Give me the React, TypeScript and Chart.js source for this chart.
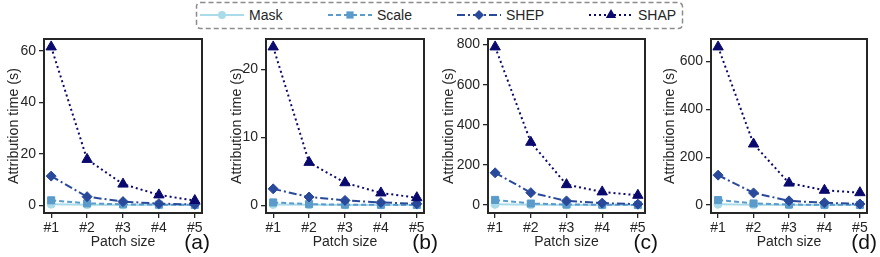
import React, { useEffect, useRef } from 'react';
import { Chart, registerables } from 'chart.js';

Chart.register(...registerables);

const FONT = '"Liberation Sans", Arial, Helvetica, sans-serif';
const INK = '#262626';

// ---- data ----
const PATCH_X = [1, 2, 3, 4, 5];
const PATCH_LABELS = ['#1', '#2', '#3', '#4', '#5'];
const SERIES_NAMES = ['Mask', 'Scale', 'SHEP', 'SHAP'];

// panel (a)
const A_MASK = [0.4, 0.2, 0.1, 0.06, 0.04];
const A_SCALE = [1.9, 0.7, 0.35, 0.2, 0.12];
const A_SHEP = [11.3, 3.3, 1.4, 0.6, 0.3];
const A_SHAP = [61.5, 17.8, 8.2, 4.0, 1.8];
const A_Y_TICKS = [0, 20, 40, 60];

// panel (b)
const B_MASK = [0.1, 0.05, 0.03, 0.02, 0.01];
const B_SCALE = [0.4, 0.15, 0.07, 0.05, 0.03];
const B_SHEP = [2.4, 1.2, 0.7, 0.4, 0.2];
const B_SHAP = [23.3, 6.3, 3.3, 1.8, 1.1];
const B_Y_TICKS = [0, 10, 20];

// panel (c)
const C_MASK = [4, 1.5, 0.7, 0.4, 0.2];
const C_SCALE = [26, 8, 3, 2, 1];
const C_SHEP = [161, 62, 21, 10, 5];
const C_SHAP = [788, 313, 102, 66, 49];
const C_Y_TICKS = [0, 200, 400, 600, 800];

// panel (d)
const D_MASK = [4, 1.5, 0.7, 0.4, 0.2];
const D_SCALE = [21, 7, 2.5, 1.5, 1];
const D_SHEP = [125, 51, 18, 10, 5];
const D_SHAP = [660, 255, 92, 62, 52];
const D_Y_TICKS = [0, 200, 400, 600];

const PANEL_LETTERS = ['(a)', '(b)', '(c)', '(d)'];
const X_TITLE = 'Patch size';
const Y_TITLE = 'Attribution time (s)';

// ---- styles / layout ----
const SERIES_STYLE = [
  { color: '#a9dbe9', dash: [] as number[], point: 'circle', radius: 4 },
  { color: '#5a9bcb', dash: [5, 3], point: 'rect', radius: 5 },
  { color: '#29499b', dash: [8, 3, 2, 3], point: 'rectRot', radius: 5 },
  { color: '#0a0a6e', dash: [2, 3], point: 'triangle', radius: 6 },
];

const LAYOUT = [
  { boxL: 44, boxR: 205, labelRight: 210, axisW: 44 },
  { boxL: 266, boxR: 427, labelRight: 438, axisW: 43 },
  { boxL: 488, boxR: 648, labelRight: 658, axisW: 53 },
  { boxL: 711, boxR: 870, labelRight: 877, axisW: 55 },
];
const BOX_TOP = 39;
const BOX_BOTTOM = 213;
const CANVAS_TOP = 30;
const CANVAS_H = 227;
const PAD_R = 4;

const framePlugin = {
  id: 'frame',
  afterDraw(chart: any) {
    const { ctx, chartArea } = chart;
    const { left, top, right, bottom } = chartArea;
    ctx.save();
    ctx.strokeStyle = INK;
    ctx.lineWidth = 2;
    ctx.strokeRect(left, top, right - left, bottom - top);
    ctx.restore();
  },
};

type PanelProps = {
  series: number[][];
  yTicks: number[];
  layout: { boxL: number; boxR: number; labelRight: number; axisW: number };
  letter: string;
};

function Panel({ series, yTicks, layout, letter }: PanelProps) {
  const ref = useRef<HTMLCanvasElement>(null);
  const width = layout.boxR - layout.boxL + layout.axisW + PAD_R;

  useEffect(() => {
    const all = series.flat();
    const lo = Math.min(...all);
    const hi = Math.max(...all);
    const pad = (hi - lo) * 0.05;
    const xLo = Math.min(...PATCH_X);
    const xHi = Math.max(...PATCH_X);
    const xPad = (xHi - xLo) * 0.05;

    const chart = new Chart(ref.current as HTMLCanvasElement, {
      type: 'line',
      data: {
        datasets: series.map((vals, si) => {
          const st = SERIES_STYLE[si];
          return {
            label: SERIES_NAMES[si],
            data: PATCH_X.map((x, i) => ({ x, y: vals[i] })),
            borderColor: st.color,
            backgroundColor: st.color,
            borderWidth: 2,
            borderDash: st.dash,
            pointStyle: st.point as any,
            pointRadius: st.radius,
            pointBorderWidth: 1,
            pointBackgroundColor: st.color,
            pointBorderColor: st.color,
            tension: 0,
            order: SERIES_STYLE.length - si,
            clip: false as any,
          };
        }),
      },
      options: {
        animation: false,
        responsive: false,
        maintainAspectRatio: false,
        devicePixelRatio: 1,
        events: [],
        layout: { padding: { top: BOX_TOP - CANVAS_TOP, right: PAD_R, left: 0, bottom: 0 } },
        plugins: { legend: { display: false }, tooltip: { enabled: false } },
        scales: {
          x: {
            type: 'linear',
            min: xLo - xPad,
            max: xHi + xPad,
            afterBuildTicks: (scale: any) => {
              scale.ticks = PATCH_X.map((v) => ({ value: v }));
            },
            afterFit: (scale: any) => {
              scale.height = CANVAS_H - (BOX_BOTTOM - CANVAS_TOP);
              scale.paddingLeft = 0;
              scale.paddingRight = 0;
            },
            ticks: {
              autoSkip: false,
              maxRotation: 0,
              padding: 2,
              color: INK,
              font: { family: FONT, size: 14 },
              callback: (v: any) => {
                const i = PATCH_X.indexOf(Number(v));
                return i >= 0 ? PATCH_LABELS[i] : '';
              },
            },
            grid: {
              display: true,
              drawOnChartArea: false,
              drawTicks: true,
              tickLength: 5,
              tickColor: INK,
              lineWidth: 1.3,
            },
            border: { display: false },
            title: {
              display: true,
              text: X_TITLE,
              color: INK,
              font: { family: FONT, size: 14 },
              padding: { top: 0, bottom: 6 },
            },
          },
          y: {
            type: 'linear',
            min: lo - pad,
            max: hi + pad,
            afterBuildTicks: (scale: any) => {
              scale.ticks = yTicks.map((v) => ({ value: v }));
            },
            afterFit: (scale: any) => {
              scale.width = layout.axisW;
              scale.paddingTop = 0;
              scale.paddingBottom = 0;
            },
            ticks: {
              padding: 3,
              color: INK,
              font: { family: FONT, size: 14 },
              callback: (v: any) => String(v),
            },
            grid: {
              display: true,
              drawOnChartArea: false,
              drawTicks: true,
              tickLength: 5,
              tickColor: INK,
              lineWidth: 1.3,
            },
            border: { display: false },
            title: {
              display: true,
              text: Y_TITLE,
              color: INK,
              font: { family: FONT, size: 14.3 },
              padding: { top: 5.5, bottom: 0 },
            },
          },
        },
      },
      plugins: [framePlugin],
    } as any);
    return () => chart.destroy();
  }, [series, yTicks, layout]);

  return (
    <>
      <canvas
        ref={ref}
        width={width}
        height={CANVAS_H}
        style={{
          position: 'absolute',
          left: layout.boxL - layout.axisW,
          top: CANVAS_TOP,
          width,
          height: CANVAS_H,
        }}
      />
      <span
        style={{
          position: 'absolute',
          right: 880 - layout.labelRight,
          top: 231,
          font: `21px ${FONT}`,
          lineHeight: '21px',
          color: '#111',
          whiteSpace: 'nowrap',
        }}
      >
        {letter}
      </span>
    </>
  );
}

function Marker({ kind, x, y, color }: { kind: string; x: number; y: number; color: string }) {
  if (kind === 'circle') return <circle cx={x} cy={y} r={4} fill={color} />;
  if (kind === 'rect') return <rect x={x - 3.6} y={y - 3.6} width={7.2} height={7.2} fill={color} />;
  if (kind === 'rectRot')
    return <polygon points={`${x},${y - 5} ${x + 5},${y} ${x},${y + 5} ${x - 5},${y}`} fill={color} />;
  const r = 6;
  return (
    <polygon
      points={`${x},${y - r} ${x + r * 0.866},${y + r / 2} ${x - r * 0.866},${y + r / 2}`}
      fill={color}
    />
  );
}

const LEGEND_ITEMS_X = [5, 133, 262, 394];
const LEGEND_LINE_W = 44;

function Legend() {
  const cy = 14;
  return (
    <svg width={490} height={31} style={{ position: 'absolute', left: 195, top: 1, overflow: 'visible' }}>
      <rect
        x={1.5}
        y={1.5}
        width={486}
        height={26}
        rx={4}
        ry={4}
        fill="white"
        stroke="#8c8c8c"
        strokeWidth={1.5}
        strokeDasharray="5 3"
      />
      {SERIES_NAMES.map((name, i) => {
        const st = SERIES_STYLE[i];
        const x0 = LEGEND_ITEMS_X[i];
        return (
          <g key={name}>
            <line
              x1={x0}
              y1={cy}
              x2={x0 + LEGEND_LINE_W}
              y2={cy}
              stroke={st.color}
              strokeWidth={2}
              strokeDasharray={st.dash.length ? st.dash.join(' ') : undefined}
            />
            <Marker kind={st.point} x={x0 + LEGEND_LINE_W / 2} y={cy} color={st.color} />
            <text x={x0 + LEGEND_LINE_W + 5} y={cy} dominantBaseline="central" fontFamily={FONT} fontSize={14} fill={INK}>
              {name}
            </text>
          </g>
        );
      })}
    </svg>
  );
}

const PANEL_SERIES = [
  [A_MASK, A_SCALE, A_SHEP, A_SHAP],
  [B_MASK, B_SCALE, B_SHEP, B_SHAP],
  [C_MASK, C_SCALE, C_SHEP, C_SHAP],
  [D_MASK, D_SCALE, D_SHEP, D_SHAP],
];
const PANEL_Y_TICKS = [A_Y_TICKS, B_Y_TICKS, C_Y_TICKS, D_Y_TICKS];

export default function App() {
  return (
    <div
      style={{
        position: 'fixed',
        left: 0,
        top: 0,
        width: 880,
        height: 257,
        background: 'white',
        overflow: 'hidden',
      }}
    >
      <Legend />
      {PANEL_SERIES.map((s, i) => (
        <Panel key={i} series={s} yTicks={PANEL_Y_TICKS[i]} layout={LAYOUT[i]} letter={PANEL_LETTERS[i]} />
      ))}
    </div>
  );
}
